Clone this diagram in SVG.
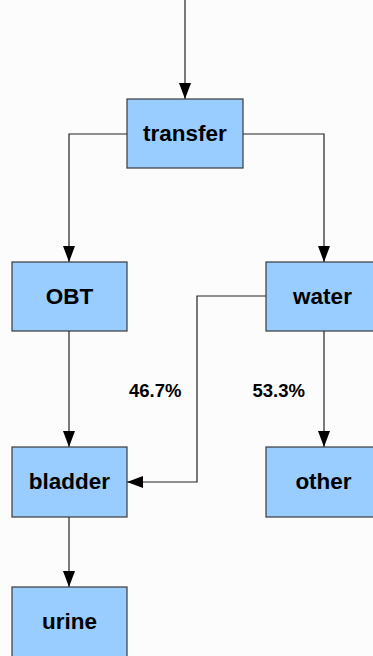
<svg xmlns="http://www.w3.org/2000/svg" width="373" height="656" viewBox="0 0 373 656">
<style>
.box{fill:#99ccff;stroke:#3a3a3a;stroke-width:1.2}
.lbl{font-family:"Liberation Sans",Arial,sans-serif;font-weight:bold;font-size:22.5px;fill:#000;text-anchor:middle}
.pct{font-family:"Liberation Sans",Arial,sans-serif;font-weight:bold;font-size:18.5px;fill:#000}
.con{fill:none;stroke:#222;stroke-width:1.2}
</style>
<defs>
<marker id="arr" markerWidth="16" markerHeight="12" refX="16" refY="6" orient="auto" markerUnits="userSpaceOnUse">
<path d="M0,0 L16,6 L0,12 Z" fill="#000"/>
</marker>
</defs>
<rect x="0" y="0" width="373" height="656" fill="#fcfcfc"/>
<g id="connectors">
<path class="con" d="M185,0 L185,99" marker-end="url(#arr)"/>
<path class="con" d="M127,134 L69,134 L69,262" marker-end="url(#arr)"/>
<path class="con" d="M243,134 L324,134 L324,262" marker-end="url(#arr)"/>
<path class="con" d="M69,331 L69,447" marker-end="url(#arr)"/>
<path class="con" d="M266,296 L197,296 L197,482 L127,482" marker-end="url(#arr)"/>
<path class="con" d="M324,331 L324,447" marker-end="url(#arr)"/>
<path class="con" d="M69,517 L69,587" marker-end="url(#arr)"/>
<text class="pct" x="129" y="396.5">46.7%</text>
<text class="pct" x="252.5" y="396.5">53.3%</text>
</g>
<g id="transfer"><rect class="box" x="127" y="99" width="116" height="69"/><text class="lbl" x="185" y="141">transfer</text></g>
<g id="OBT"><rect class="box" x="12" y="262" width="115" height="69"/><text class="lbl" x="69.5" y="304">OBT</text></g>
<g id="water"><rect class="box" x="266" y="262" width="115" height="69"/><text class="lbl" x="322.5" y="304">water</text></g>
<g id="bladder"><rect class="box" x="12" y="447" width="115" height="70"/><text class="lbl" x="69.5" y="489">bladder</text></g>
<g id="other"><rect class="box" x="266" y="447" width="115" height="70"/><text class="lbl" x="323.5" y="489">other</text></g>
<g id="urine"><rect class="box" x="12" y="587" width="115" height="72"/><text class="lbl" x="69.5" y="629">urine</text></g>
</svg>
